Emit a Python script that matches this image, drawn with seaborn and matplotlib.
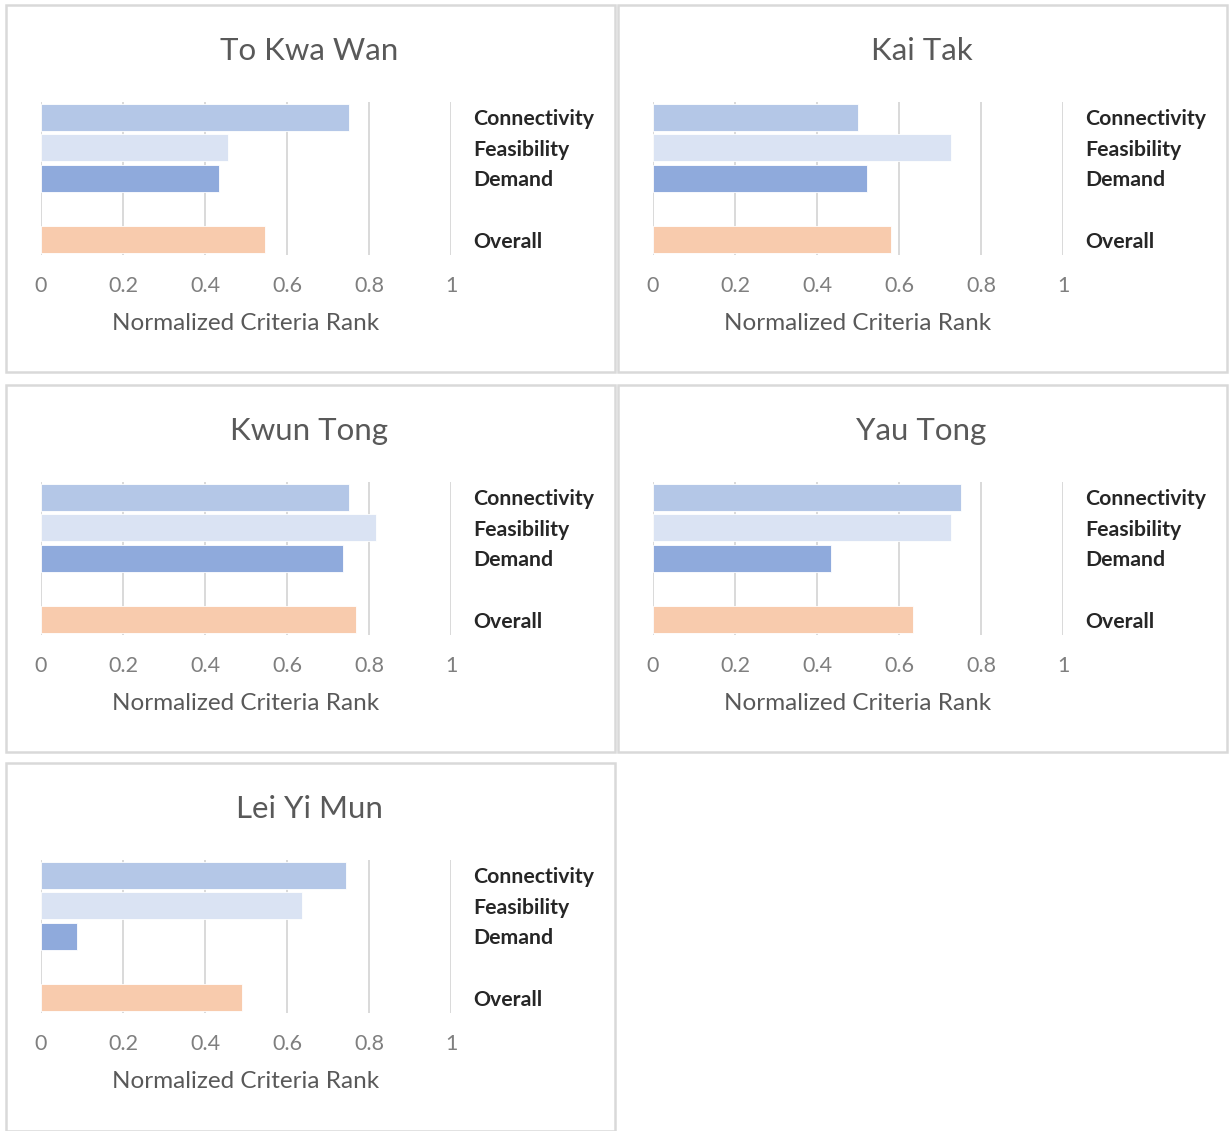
import pandas as pd
import seaborn as sns
import matplotlib.pyplot as plt
from matplotlib.patches import Rectangle

# Values
areas = ['To Kwa Wan', 'Kai Tak', 'Kwun Tong', 'Yau Tong', 'Lei Yi Mun']
criteria = ['Connectivity', 'Feasibility', 'Demand', 'Overall']
connectivity = [0.75, 0.50, 0.75, 0.75, 0.745]
feasibility = [0.455, 0.727, 0.818, 0.727, 0.636]
demand = [0.435, 0.522, 0.737, 0.435, 0.088]
overall = [0.546, 0.58, 0.768, 0.634, 0.49]

colors = {'Connectivity': '#B4C7E7', 'Feasibility': '#DAE3F3',
          'Demand': '#8FAADC', 'Overall': '#F8CBAD'}
order = ['Connectivity', 'Feasibility', 'Demand', ' ', 'Overall']

sns.set_theme(style='white')
plt.rcParams['font.family'] = ['Lato', 'DejaVu Sans']

W, H = 1231, 1131
fig = plt.figure(figsize=(W / 100, H / 100), dpi=100)

# panel top-left corners (pixels)
panel_xy = [(6, 5), (618, 5), (6, 385), (618, 385), (6, 763)]
box_h = [367, 367, 367, 367, 368]

for i, area in enumerate(areas):
    px, py = panel_xy[i]
    # panel frame
    fig.add_artist(Rectangle((px / W, 1 - (py + box_h[i]) / H), 609 / W, box_h[i] / H,
                             transform=fig.transFigure, fill=False,
                             edgecolor='#D9D9D9', linewidth=1.8))
    ax = fig.add_axes([(px + 35) / W, 1 - (py + 250) / H, 410 / W, 153 / H])

    df = pd.DataFrame({'criterion': criteria,
                       'value': [connectivity[i], feasibility[i], demand[i], overall[i]]})
    sns.barplot(data=df, x='value', y='criterion', hue='criterion', order=order,
                palette=colors, saturation=1, width=0.88, legend=False, ax=ax,
                edgecolor='white', linewidth=0.6)

    ax.set_xlim(0, 1)
    ax.set_ylim(4.5, -0.5)
    ax.set_xticks([0, 0.2, 0.4, 0.6, 0.8, 1])
    ax.set_xticklabels(['0', '0.2', '0.4', '0.6', '0.8', '1'])
    ax.grid(axis='x', color='#D9D9D9', linewidth=1.4)
    ax.set_axisbelow(True)
    for s in ax.spines.values():
        s.set_visible(False)

    ax.yaxis.tick_right()
    ax.tick_params(axis='y', length=0, pad=16, labelsize=15.3, labelcolor='#262626')
    for lab in ax.get_yticklabels():
        lab.set_fontweight('bold')
    ax.tick_params(axis='x', length=0, pad=15, labelsize=15.5, labelcolor='#7F7F7F')

    ax.set_ylabel('')
    ax.set_xlabel('Normalized Criteria Rank', fontsize=17.5, color='#595959', labelpad=12)
    ax.set_title(area, fontsize=22.5, color='#595959', pad=30, x=0.655)

fig.savefig('out.png', dpi=100, facecolor='white')
